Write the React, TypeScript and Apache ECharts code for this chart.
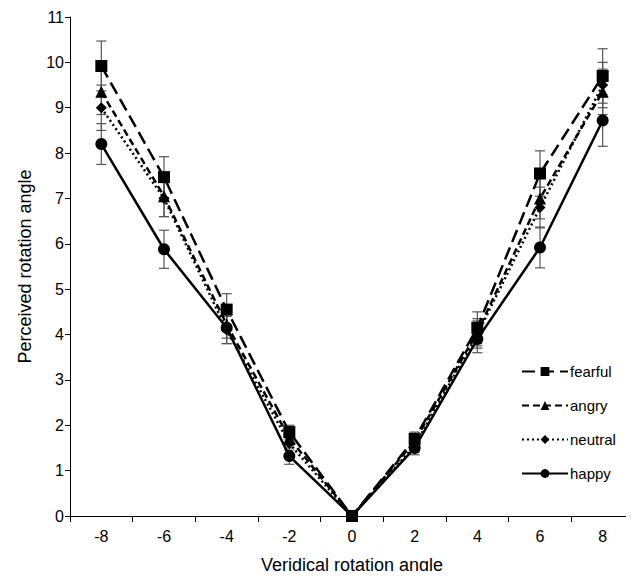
import React, { useEffect, useRef } from "react";
import * as echarts from "echarts";

const categories = ["-8", "-6", "-4", "-2", "0", "2", "4", "6", "8"];
const fearful = [9.92, 7.47, 4.55, 1.85, 0, 1.7, 4.15, 7.55, 9.7];
const angry = [9.35, 7.05, 4.22, 1.72, 0, 1.65, 4.05, 7.0, 9.35];
const neutral = [9.0, 7.0, 4.1, 1.6, 0, 1.55, 4.0, 6.8, 9.5];
const happy = [8.2, 5.88, 4.15, 1.32, 0, 1.5, 3.9, 5.92, 8.72];
const fearfulErr = [0.55, 0.45, 0.35, 0.15, 0, 0.15, 0.35, 0.5, 0.6];
const angryErr = [0.5, 0.45, 0.3, 0.15, 0, 0.15, 0.3, 0.45, 0.5];
const neutralErr = [0.5, 0.4, 0.3, 0.15, 0, 0.15, 0.3, 0.45, 0.5];
const happyErr = [0.45, 0.42, 0.35, 0.18, 0, 0.15, 0.3, 0.45, 0.57];
const seriesNames = ["fearful", "angry", "neutral", "happy"];

const FONT = "Liberation Sans, Arial, sans-serif";

export default function App() {
  const ref = useRef<HTMLDivElement>(null);
  useEffect(() => {
    if (!ref.current) return;
    const chart = echarts.init(ref.current, null, { renderer: "svg" });
    const values = [fearful, angry, neutral, happy];
    const errs = [fearfulErr, angryErr, neutralErr, happyErr];
    const symbols = ["rect", "triangle", "diamond", "circle"];
    const symbolSizes = [12, 12, 11, 12];
    const dashes: any[] = [[13, 6], [7, 4], [2, 3], "solid"];

    const errorSeries = values.map((vals, si) => ({
      type: "custom",
      name: seriesNames[si] + "-err",
      z: 1,
      silent: true,
      renderItem: (params: any, api: any) => {
        const x = api.value(0);
        const lo = api.coord([x, api.value(1)]);
        const hi = api.coord([x, api.value(2)]);
        const w = 5;
        const st = { stroke: "#555", lineWidth: 1.2 };
        return {
          type: "group",
          children: [
            { type: "line", shape: { x1: lo[0], y1: lo[1], x2: hi[0], y2: hi[1] }, style: st },
            { type: "line", shape: { x1: lo[0] - w, y1: lo[1], x2: lo[0] + w, y2: lo[1] }, style: st },
            { type: "line", shape: { x1: hi[0] - w, y1: hi[1], x2: hi[0] + w, y2: hi[1] }, style: st },
          ],
        };
      },
      data: vals
        .map((v, i) => (errs[si][i] > 0 ? [i, v - errs[si][i], v + errs[si][i]] : null))
        .filter((d) => d !== null),
    }));

    const lineSeries = values.map((vals, si) => ({
      type: "line",
      name: seriesNames[si],
      z: 3,
      data: vals,
      symbol: symbols[si],
      symbolSize: symbolSizes[si],
      showAllSymbol: true,
      itemStyle: { color: "#000" },
      lineStyle: { color: "#000", width: 2.5, type: dashes[si] },
    }));

    chart.setOption({
      animation: false,
      backgroundColor: "#fff",
      grid: { left: 70, right: 0, top: 17, bottom: 62 },
      legend: {
        data: seriesNames,
        orient: "vertical",
        left: 521,
        top: 364,
        padding: 0,
        itemWidth: 46,
        itemHeight: 11,
        itemGap: 19,
        textStyle: { fontFamily: FONT, fontSize: 15, color: "#000", padding: [0, 0, 0, -3] },
      },
      xAxis: {
        type: "category",
        data: categories,
        boundaryGap: true,
        name: "Veridical rotation angle",
        nameLocation: "middle",
        nameGap: 40,
        nameTextStyle: { fontFamily: FONT, fontSize: 18, color: "#000" },
        axisLine: { show: true, lineStyle: { color: "#000", width: 1 } },
        axisTick: { show: true, length: 6, interval: 0, lineStyle: { color: "#000" } },
        axisLabel: { fontFamily: FONT, fontSize: 16, color: "#000", margin: 12 },
        splitLine: { show: false },
      },
      yAxis: {
        type: "value",
        min: 0,
        max: 11,
        interval: 1,
        name: "Perceived rotation angle",
        nameLocation: "middle",
        nameGap: 36,
        nameTextStyle: { fontFamily: FONT, fontSize: 18, color: "#000" },
        axisLine: { show: true, lineStyle: { color: "#000", width: 1 } },
        axisTick: { show: true, length: 5, lineStyle: { color: "#000" } },
        axisLabel: { fontFamily: FONT, fontSize: 16, color: "#000", margin: 6 },
        splitLine: { show: false },
      },
      series: [...errorSeries, ...lineSeries],
    });
    return () => chart.dispose();
  }, []);
  return <div ref={ref} style={{ width: 634, height: 579, margin: -8 }} />;
}
